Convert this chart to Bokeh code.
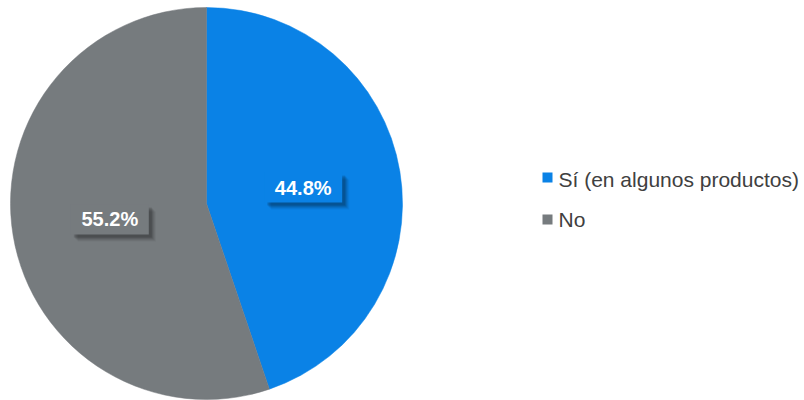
import math
from bokeh.plotting import figure
from bokeh.models import ColumnDataSource, Range1d
from bokeh.core.properties import value
from bokeh.embed import file_html
from bokeh.resources import INLINE

categories = ["Sí (en algunos productos)", "No"]
shares = [44.8, 55.2]
colors = ["#0A82E6", "#767B7E"]

W, H = 804, 400
p = figure(width=W, height=H, output_backend="svg", toolbar_location=None,
           x_range=Range1d(0, W), y_range=Range1d(0, H), min_border=0)
p.axis.visible = False
p.grid.visible = False
p.outline_line_color = None
p.background_fill_color = "white"

cx, cy, r = 206, 197, 196
total = sum(shares)
starts, ends, mids = [], [], []
a = math.pi / 2
for s in shares:
    sweep = 2 * math.pi * s / total
    starts.append(a)
    ends.append(a - sweep)
    mids.append(a - sweep / 2)
    a -= sweep

src = ColumnDataSource(dict(start=starts, end=ends, color=colors, cat=categories))
p.wedge(x=cx, y=cy, radius=r, start_angle="start", end_angle="end",
        direction="clock", fill_color="color", line_color="color", line_width=0.5, source=src)

lx = [cx + 0.5 * r * math.cos(m) for m in mids]
ly = [cy + 0.5 * r * math.sin(m) for m in mids]
labels = [f"{s:.1f}%" for s in shares]
bw, bh = 78, 30
for k, alpha in [(7, 0.05), (6, 0.06), (5, 0.08), (4, 0.10), (3, 0.12)]:
    p.rect(x=[x + k for x in lx], y=[y - k for y in ly], width=bw, height=bh,
           fill_color="black", fill_alpha=alpha, line_color=None)
p.rect(x=lx, y=ly, width=bw, height=bh, fill_color=colors, line_color=None)
p.text(x=lx, y=ly, text=labels, text_color="white", text_font=value("Liberation Sans"),
       text_font_style="bold", text_font_size="20px", text_align="center", text_baseline="middle")

# legend
leg_x = 547
leg_y = [223, 181]
p.rect(x=leg_x, y=leg_y, width=10, height=10, fill_color=colors, line_color=None)
p.text(x=558, y=[221.5, 181.5], text=categories, text_color="#404040",
       text_font=value("Liberation Sans"), text_font_size="21px",
       text_align="left", text_baseline="middle")

open("out.html", "w").write(file_html(p, INLINE))
